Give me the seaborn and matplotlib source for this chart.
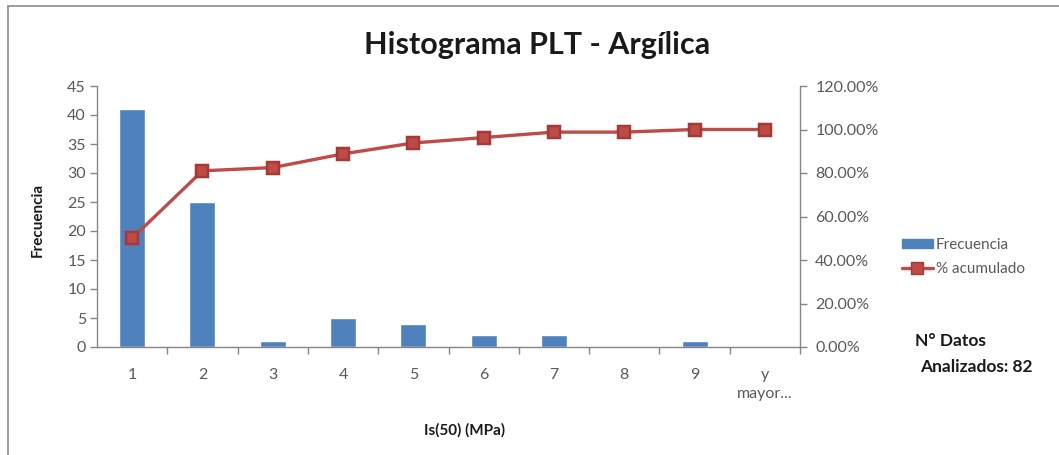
import matplotlib
matplotlib.use("Agg")
import matplotlib.pyplot as plt
import matplotlib.patches as mpatches
from matplotlib.lines import Line2D
from matplotlib.ticker import FuncFormatter, FixedLocator, NullFormatter
import seaborn as sns
import pandas as pd
import numpy as np

# ---- data ----
categories = ["1", "2", "3", "4", "5", "6", "7", "8", "9", "y\nmayor..."]
frecuencia = [41, 25, 1, 5, 4, 2, 2, 0, 1, 0]
pct_acumulado = [50.0, 81.0, 82.5, 88.8, 93.8, 96.3, 98.8, 98.8, 100.0, 100.0]
left_ticks = [0, 5, 10, 15, 20, 25, 30, 35, 40, 45]
right_ticks = [0, 20, 40, 60, 80, 100, 120]
n_datos = 82

sns.set_theme(style="white")
plt.rcParams["font.family"] = ["Lato", "DejaVu Sans"]

BLUE = "#4F81BD"
RED = "#BE4B48"
GRAY_TXT = "#595959"
AX_COL = "#868686"

df = pd.DataFrame({"cat": categories, "freq": frecuencia, "pct": pct_acumulado})

W, H = 1059, 455
fig = plt.figure(figsize=(W / 100, H / 100), dpi=100)
fig.patch.set_facecolor("white")

# chart border
fig.add_artist(mpatches.Rectangle((8 / W, -0.05), 1.2, (H - 6) / H + 0.05,
                                  transform=fig.transFigure, fill=False,
                                  edgecolor="#8C8C8C", linewidth=1.2, zorder=0))

ax_l, ax_r, ax_b, ax_t = 97, 800, 347, 86
ax = fig.add_axes([ax_l / W, 1 - ax_b / H, (ax_r - ax_l) / W, (ax_b - ax_t) / H])

sns.barplot(data=df, x="cat", y="freq", order=categories, color=BLUE,
            width=0.37, saturation=1, ax=ax, zorder=2)
ax.set_ylim(0, 45)
ax.set_xlim(-0.5, len(categories) - 0.5)
ax.yaxis.set_major_locator(FixedLocator(left_ticks))

ax2 = ax.twinx()
sns.pointplot(data=df, x="cat", y="pct", order=categories, color=RED,
              markers="s", markersize=8, linewidth=2.4, ax=ax2,
              markeredgecolor="#A33A37")
ax2.set_ylim(0, 120)
ax2.set_xlim(-0.5, len(categories) - 0.5)
ax2.yaxis.set_major_locator(FixedLocator(right_ticks))
ax2.yaxis.set_major_formatter(FuncFormatter(lambda v, p: f"{v:.2f}%"))

# spines and ticks
for a in (ax, ax2):
    a.grid(False)
    a.set_facecolor("none")
    for s in a.spines.values():
        s.set_visible(False)
ax.spines["left"].set_visible(True)
ax.spines["bottom"].set_visible(True)
ax2.spines["right"].set_visible(True)
for s in (ax.spines["left"], ax.spines["bottom"], ax2.spines["right"]):
    s.set_color(AX_COL)
    s.set_linewidth(1.0)

ax.tick_params(axis="y", which="major", direction="out", length=5, width=1,
               color=AX_COL, labelsize=11.5, labelcolor=GRAY_TXT, pad=3, left=True)
ax2.tick_params(axis="y", which="major", direction="out", length=5, width=1,
                color=AX_COL, labelsize=11.5, labelcolor=GRAY_TXT, pad=6, right=True)
ax.xaxis.set_minor_locator(FixedLocator(np.arange(0.5, len(categories), 1.0)))
ax.xaxis.set_minor_formatter(NullFormatter())
ax.tick_params(axis="x", which="major", length=0, labelsize=11.5,
               labelcolor=GRAY_TXT, pad=15)
ax.tick_params(axis="x", which="minor", direction="out", length=5, width=1,
               color=AX_COL, bottom=True)
for lbl in ax.get_xticklabels():
    lbl.set_linespacing(1.5)
ax2.set_xlabel("")
ax2.set_ylabel("")

ax.set_xlabel("Is(50) (MPa)", fontsize=11, fontweight="bold", color="#1A1A1A")
ax.xaxis.set_label_coords((465 - ax_l) / (ax_r - ax_l), (ax_b - 423) / (ax_b - ax_t))
ax.set_ylabel("Frecuencia", fontsize=11, fontweight="bold", color="#1A1A1A")
ax.yaxis.set_label_coords((45 - ax_l) / (ax_r - ax_l), (ax_b - 220) / (ax_b - ax_t))

fig.text(537 / W, 1 - 45 / H, "Histograma PLT - Argílica", ha="center", va="center",
         fontsize=22, fontweight="bold", color="#1A1A1A")

handles = [mpatches.Patch(color=BLUE, label="Frecuencia"),
           Line2D([0], [0], color=RED, lw=2.4, marker="s", markersize=8,
                  markeredgecolor="#A33A37", label="% acumulado")]
fig.legend(handles=handles, loc="center left", bbox_to_anchor=(902 / W, 1 - 257 / H),
           frameon=False, fontsize=11, handlelength=2.0, handleheight=0.5,
           handletextpad=0.2, labelspacing=0.7, labelcolor=GRAY_TXT,
           borderaxespad=0, borderpad=0)

fig.text(915 / W, 1 - 341 / H, "N° Datos", ha="left", va="center",
         fontsize=12.5, fontweight="bold", color="#1A1A1A")
fig.text(920 / W, 1 - 367 / H, f"Analizados: {n_datos}", ha="left", va="center",
         fontsize=12.5, fontweight="bold", color="#1A1A1A")

fig.savefig("out.png", dpi=100, facecolor="white")
